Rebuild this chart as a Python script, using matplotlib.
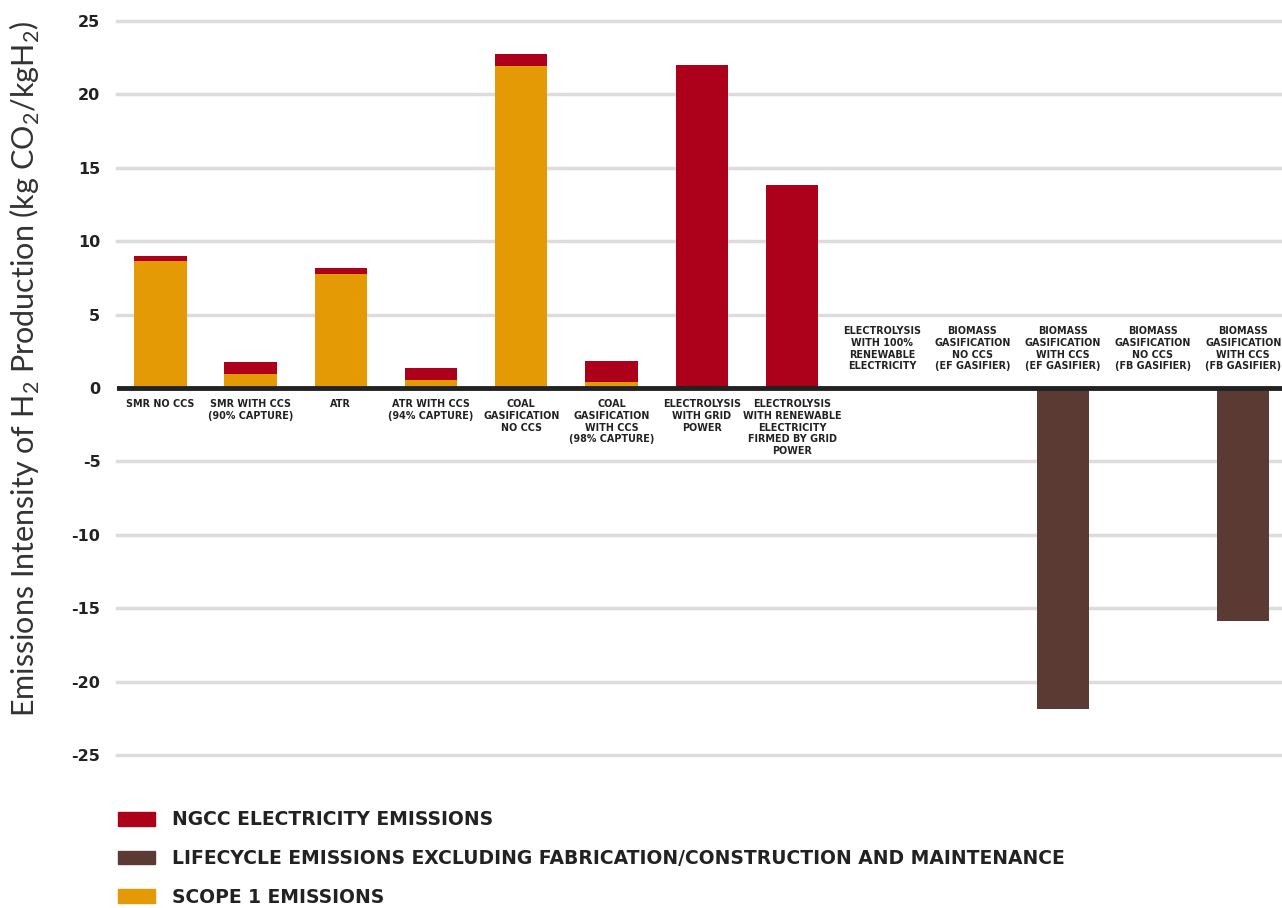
import numpy as np
import matplotlib
matplotlib.use('Agg')
import matplotlib.pyplot as plt
from matplotlib.patches import Patch

plt.rcParams['font.family'] = ['Lato', 'Open Sans', 'DejaVu Sans']
plt.rcParams['mathtext.fontset'] = 'custom'
plt.rcParams['mathtext.rm'] = 'Lato'

categories = [
    'SMR NO CCS',
    'SMR WITH CCS\n(90% CAPTURE)',
    'ATR',
    'ATR WITH CCS\n(94% CAPTURE)',
    'COAL\nGASIFICATION\nNO CCS',
    'COAL\nGASIFICATION\nWITH CCS\n(98% CAPTURE)',
    'ELECTROLYSIS\nWITH GRID\nPOWER',
    'ELECTROLYSIS\nWITH RENEWABLE\nELECTRICITY\nFIRMED BY GRID\nPOWER',
    'ELECTROLYSIS\nWITH 100%\nRENEWABLE\nELECTRICITY',
    'BIOMASS\nGASIFICATION\nNO CCS\n(EF GASIFIER)',
    'BIOMASS\nGASIFICATION\nWITH CCS\n(EF GASIFIER)',
    'BIOMASS\nGASIFICATION\nNO CCS\n(FB GASIFIER)',
    'BIOMASS\nGASIFICATION\nWITH CCS\n(FB GASIFIER)',
]

scope1 = [8.65, 0.95, 7.77, 0.54, 21.93, 0.41, 0, 0, 0, 0, 0, 0, 0]
ngcc = [0.34, 0.82, 0.40, 0.82, 0.82, 1.43, 22.0, 13.83, 0, 0, 0, 0, 0]
lifecycle = [0, 0, 0, 0, 0, 0, 0, 0, 0, 0, -21.87, 0, -15.87]

yticks = [-25, -20, -15, -10, -5, 0, 5, 10, 15, 20, 25]

c_scope = '#E39A05'
c_ngcc = '#AD001B'
c_life = '#5B3A34'
bold_font = ['DejaVu Sans']

fig = plt.figure(figsize=(12.82, 9.08), dpi=100)
ax = fig.add_axes([0.0913, 0.1685, 0.9087, 0.8084])

x = np.arange(len(categories))
w = 0.58
ax.bar(x, scope1, w, color=c_scope, zorder=3)
ax.bar(x, ngcc, w, bottom=scope1, color=c_ngcc, zorder=3)
ax.bar(x, lifecycle, w, color=c_life, zorder=3)

ax.set_ylim(-25, 25)
ax.set_xlim(-0.48, len(categories) - 0.57)
ax.set_yticks(yticks)
ax.set_yticklabels([str(t) for t in yticks], fontsize=11.5, fontweight='bold',
                   color='#222222', family=bold_font)
ax.tick_params(axis='y', length=0, pad=12)
ax.set_xticks([])
for t in yticks:
    if t == 0:
        ax.axhline(0, color='#222222', lw=3.5, zorder=4)
    else:
        ax.axhline(t, color='#DCDCDC', lw=2.5, zorder=1, clip_on=False)
for s in ax.spines.values():
    s.set_visible(False)

# category labels: below zero line for positive bars, above it otherwise
for i, lab in enumerate(categories):
    total = scope1[i] + ngcc[i] + lifecycle[i]
    if total > 0:
        ax.annotate(lab, (i, 0), xytext=(0, -8), textcoords='offset points',
                    ha='center', va='top', fontsize=6.9, fontweight='bold',
                    family=bold_font, color='#222222', linespacing=1.22)
    else:
        ax.annotate(lab, (i, 0), xytext=(0, 12), textcoords='offset points',
                    ha='center', va='bottom', fontsize=6.9, fontweight='bold',
                    family=bold_font, color='#222222', linespacing=1.22)

fig.text(0.0195, 0.594, 'Emissions Intensity of H$_2$ Production (kg CO$_2$/kgH$_2$)',
         rotation=90, ha='center', va='center', fontsize=22, fontweight='normal',
         color='#333333')

handles = [Patch(color=c_ngcc), Patch(color=c_life), Patch(color=c_scope)]
labels = ['NGCC ELECTRICITY EMISSIONS',
          'LIFECYCLE EMISSIONS EXCLUDING FABRICATION/CONSTRUCTION AND MAINTENANCE',
          'SCOPE 1 EMISSIONS']
fig.legend(handles, labels, loc='upper left', bbox_to_anchor=(0.085, 0.118),
           frameon=False, prop={'size': 13.5, 'weight': 'bold', 'family': bold_font},
           handlelength=1.95, handleheight=0.75, handletextpad=0.9,
           labelspacing=1.05, borderpad=0, labelcolor='#222222')

fig.savefig('out.png', dpi=100)
